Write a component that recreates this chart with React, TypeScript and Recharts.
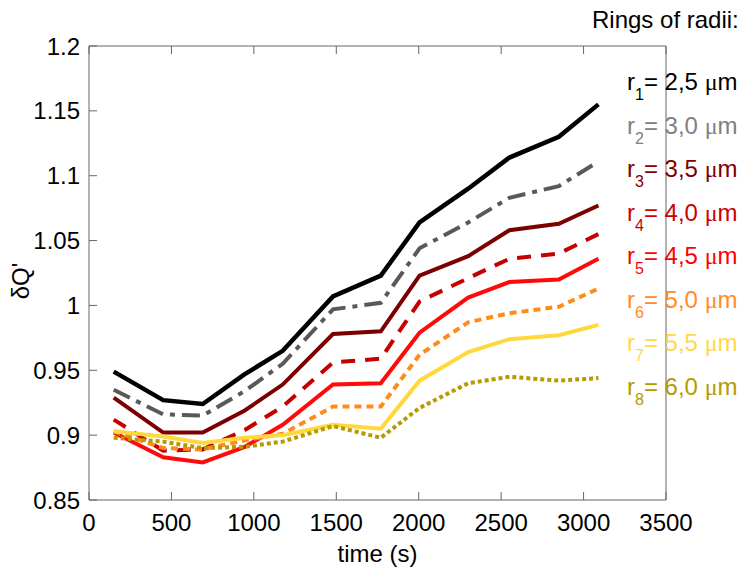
import { LineChart, Line, XAxis, YAxis } from "recharts";

const times = [150, 450, 690, 945, 1175, 1480, 1770, 2005, 2300, 2550, 2850, 3090];

const r1 = [0.949, 0.927, 0.924, 0.947, 0.965, 1.007, 1.023, 1.064, 1.09, 1.114, 1.13, 1.155];
const r2 = [0.935, 0.916, 0.915, 0.934, 0.955, 0.997, 1.002, 1.044, 1.064, 1.083, 1.092, 1.111];
const r3 = [0.929, 0.902, 0.902, 0.919, 0.939, 0.978, 0.98, 1.023, 1.038, 1.058, 1.063, 1.077];
const r4 = [0.912, 0.888, 0.889, 0.904, 0.922, 0.956, 0.959, 1.003, 1.021, 1.036, 1.04, 1.055];
const r5 = [0.902, 0.883, 0.879, 0.891, 0.908, 0.939, 0.94, 0.979, 1.006, 1.018, 1.02, 1.036];
const r6 = [0.903, 0.89, 0.889, 0.896, 0.901, 0.922, 0.922, 0.962, 0.987, 0.994, 0.999, 1.013];
const r7 = [0.903, 0.899, 0.894, 0.898, 0.9, 0.908, 0.905, 0.942, 0.964, 0.974, 0.977, 0.985];
const r8 = [0.898, 0.895, 0.89, 0.891, 0.895, 0.907, 0.898, 0.921, 0.94, 0.945, 0.942, 0.944];

const xTicks = [0, 500, 1000, 1500, 2000, 2500, 3000, 3500];
const yTicks = [0.85, 0.9, 0.95, 1, 1.05, 1.1, 1.15, 1.2];

const radii = ["2,5", "3,0", "3,5", "4,0", "4,5", "5,0", "5,5", "6,0"];

const series = [
  { key: "r1", values: r1, color: "#000000", text: "#000000", width: 4.5, dash: undefined },
  { key: "r2", values: r2, color: "#595959", text: "#808080", width: 4, dash: "18 7 5 7" },
  { key: "r3", values: r3, color: "#7b0000", text: "#800000", width: 4, dash: undefined },
  { key: "r4", values: r4, color: "#c40000", text: "#cc0000", width: 4, dash: "14 10" },
  { key: "r5", values: r5, color: "#ff0a0a", text: "#ff0000", width: 4, dash: undefined },
  { key: "r6", values: r6, color: "#ff8c1a", text: "#ff8c26", width: 4, dash: "7 5" },
  { key: "r7", values: r7, color: "#ffd83d", text: "#ffd84a", width: 4, dash: undefined },
  { key: "r8", values: r8, color: "#b59a00", text: "#b39b00", width: 4, dash: "4 3" },
];

const data = times.map((t, i) => {
  const row: Record<string, number> = { t };
  series.forEach((s) => (row[s.key] = s.values[i]));
  return row;
});

const font = "'Liberation Sans', Arial, sans-serif";
const axisColor = "#666666";
const tickLen = 8;

// ticks point into the plot, like the original figure
const BottomTick = (props: any) => {
  const { x, y, payload } = props;
  return (
    <g>
      <line x1={x} y1={y} x2={x} y2={y - tickLen} stroke={axisColor} />
      <text x={x} y={y + 31} textAnchor="middle" fontSize={24} fontFamily={font} fill="#000">
        {payload.value}
      </text>
    </g>
  );
};

const LeftTick = (props: any) => {
  const { x, y, payload } = props;
  return (
    <g>
      <line x1={x} y1={y} x2={x + tickLen} y2={y} stroke={axisColor} />
      <text x={x - 9} y={y + 8.5} textAnchor="end" fontSize={24} fontFamily={font} fill="#000">
        {String(Number(payload.value.toFixed(2)))}
      </text>
    </g>
  );
};

const TopTick = (props: any) => {
  const { x, y } = props;
  return <line x1={x} y1={y} x2={x} y2={y + tickLen} stroke={axisColor} />;
};

const RightTick = (props: any) => {
  const { x, y } = props;
  return <line x1={x} y1={y} x2={x - tickLen} y2={y} stroke={axisColor} />;
};

export default function App() {
  return (
    <div style={{ position: "absolute", left: 0, top: 0, width: 744, height: 569, background: "#fff", fontFamily: font }}>
      <LineChart width={744} height={569} data={data} margin={{ top: 45, right: 77, bottom: 0, left: 9 }}>
        <XAxis
          dataKey="t"
          type="number"
          domain={[0, 3500]}
          ticks={xTicks}
          interval={0}
          height={69}
          stroke={axisColor}
          tickLine={false}
          tickSize={0}
          tickMargin={0}
          tick={<BottomTick />}
          label={{ value: "time (s)", position: "insideBottom", offset: 7, fill: "#000", fontSize: 24, fontFamily: font }}
        />
        <XAxis
          xAxisId="top"
          orientation="top"
          dataKey="t"
          type="number"
          domain={[0, 3500]}
          ticks={xTicks}
          interval={0}
          height={1}
          stroke={axisColor}
          tickLine={false}
          tickSize={0}
          tickMargin={0}
          tick={<TopTick />}
        />
        <YAxis
          type="number"
          domain={[0.85, 1.2]}
          ticks={yTicks}
          interval={0}
          width={80}
          stroke={axisColor}
          tickLine={false}
          tickSize={0}
          tickMargin={0}
          tick={<LeftTick />}
        />
        <YAxis
          yAxisId="right"
          orientation="right"
          type="number"
          domain={[0.85, 1.2]}
          ticks={yTicks}
          interval={0}
          width={1}
          stroke={axisColor}
          tickLine={false}
          tickSize={0}
          tickMargin={0}
          tick={<RightTick />}
        />
        {series.map((s) => (
          <Line
            key={s.key}
            dataKey={s.key}
            stroke={s.color}
            strokeWidth={s.width}
            strokeDasharray={s.dash}
            dot={false}
            activeDot={false}
            isAnimationActive={false}
            strokeLinejoin="miter"
          />
        ))}
      </LineChart>
      <svg width={744} height={569} style={{ position: "absolute", left: 0, top: 0, pointerEvents: "none" }}>
        <text transform="translate(29,281) rotate(-90)" textAnchor="middle" fontSize={24} fontFamily={font} fill="#000">
          δQ'
        </text>
        <text x={592} y={28} fontSize={24} fontFamily={font} fill="#000">
          Rings of radii:
        </text>
        {series.map((s, i) => (
          <text key={s.key} x={627} y={90 + 43.5 * i} fontSize={24} fontFamily={font} fill={s.text}>
            <tspan>r</tspan>
            <tspan dy={10} fontSize={16}>{i + 1}</tspan>
            <tspan dy={-10}>{"= " + radii[i] + " "}</tspan>
            <tspan fontFamily="'Liberation Serif', serif">μ</tspan>
            <tspan>m</tspan>
          </text>
        ))}
      </svg>
    </div>
  );
}
